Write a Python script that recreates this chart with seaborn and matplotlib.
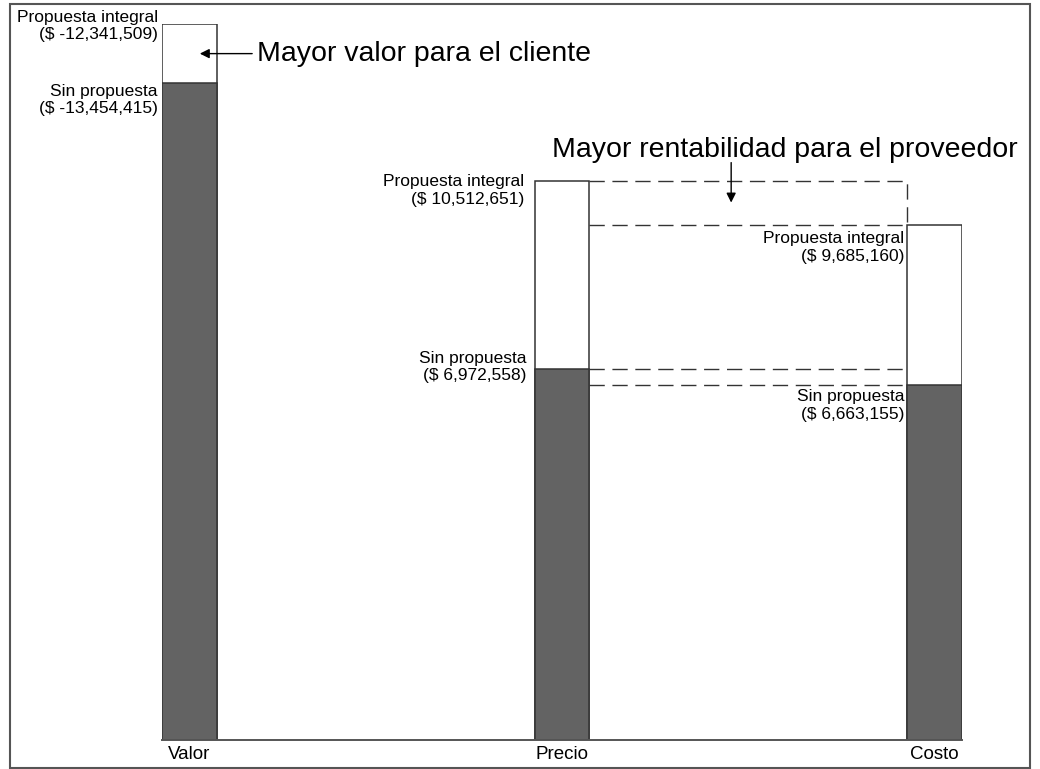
import matplotlib
matplotlib.use("Agg")
import matplotlib.pyplot as plt
from matplotlib.patches import Rectangle
import pandas as pd
import seaborn as sns

# datos
categorias = ["Valor", "Precio", "Costo"]
sin_propuesta = [-13454415, 6972558, 6663155]
propuesta_integral = [-12341509, 10512651, 9685160]

# la barra oscura es el menor valor absoluto, la blanca el mayor
alto_oscuro = [min(abs(a), abs(b)) for a, b in zip(sin_propuesta, propuesta_integral)]
alto_blanco = [max(abs(a), abs(b)) for a, b in zip(sin_propuesta, propuesta_integral)]

df = pd.DataFrame({"cat": categorias, "oscuro": alto_oscuro, "blanco": alto_blanco})

sns.set_style("white")
plt.rcParams["font.family"] = ["Liberation Sans", "DejaVu Sans"]
plt.rcParams["text.color"] = "black"
plt.rcParams["xtick.color"] = "black"

ancho = 0.147
gris = "#636363"
linea = "#333333"

fig = plt.figure(figsize=(10.4, 7.69), dpi=100)
ax = fig.add_axes([162 / 1040, 29 / 769, 800 / 1040, 716 / 769])

sns.barplot(data=df, x="cat", y="blanco", order=categorias, color="white",
            edgecolor=linea, linewidth=1.1, width=ancho, saturation=1, ax=ax)
sns.barplot(data=df, x="cat", y="oscuro", order=categorias, color=gris,
            edgecolor=linea, linewidth=1.1, width=ancho, saturation=1, ax=ax)

ax.set_xlim(-ancho / 2, 2 + ancho / 2)
ax.set_ylim(0, max(alto_blanco))
ax.set_xlabel("")
ax.set_ylabel("")
ax.set_yticks([])
ax.tick_params(axis="x", length=0, pad=4, labelsize=13.5, labelcolor="black")
for s in ["top", "left", "right"]:
    ax.spines[s].set_visible(False)
ax.spines["bottom"].set_color("#555555")
ax.spines["bottom"].set_linewidth(1.4)

# lineas punteadas entre Precio y Costo
x1 = 1 + ancho / 2
x2 = 2 - ancho / 2
guion = dict(color=linea, lw=1.0, linestyle=(0, (11, 5.5)))
ax.plot([x1, x2, x2], [alto_blanco[1], alto_blanco[1], alto_blanco[2]], **guion)
ax.plot([x1, x2], [alto_blanco[2], alto_blanco[2]], **guion)
ax.plot([x1, x2], [alto_oscuro[1], alto_oscuro[1]], **guion)
ax.plot([x1, x2], [alto_oscuro[2], alto_oscuro[2]], **guion)

# etiquetas de cada barra (desplazamientos en pixeles)
desp_blanco = [(-4, -2), (-10, -10), (-3, -23)]
desp_oscuro = [(-4, -17), (-8, 2), (-3, -20)]
for i in range(3):
    xl = i - ancho / 2
    ax.annotate(f"Propuesta integral\n($ {propuesta_integral[i]:,})",
                xy=(xl, alto_blanco[i]), xytext=desp_blanco[i], textcoords="offset pixels",
                ha="right", va="center", fontsize=12.5, linespacing=1.2,
                multialignment="right", annotation_clip=False)
    ax.annotate(f"Sin propuesta\n($ {sin_propuesta[i]:,})",
                xy=(xl, alto_oscuro[i]), xytext=desp_oscuro[i], textcoords="offset pixels",
                ha="right", va="center", fontsize=12.5, linespacing=1.2,
                multialignment="right", annotation_clip=False)

# flechas y textos grandes
y_cliente = (alto_blanco[0] + alto_oscuro[0]) / 2
ax.annotate("Mayor valor para el cliente", xy=(0.028, y_cliente), xytext=(0.181, y_cliente),
            ha="left", va="center", fontsize=20.5, annotation_clip=False,
            arrowprops=dict(arrowstyle="-|>", color="black", lw=1.0,
                            shrinkA=1, shrinkB=0, mutation_scale=14))

y_prov = (alto_blanco[1] + alto_blanco[2]) / 2
ax.text(1.599, 11.08e6, "Mayor rentabilidad para el proveedor", ha="center", va="center",
        fontsize=20.5, clip_on=False)
ax.annotate("", xy=(1.454, y_prov), xytext=(1.454, 10.85e6),
            arrowprops=dict(arrowstyle="-|>", color="black", lw=1.0,
                            shrinkA=0, shrinkB=0, mutation_scale=14),
            annotation_clip=False)

# marco exterior
fig.patches.append(Rectangle((10 / 1040, 1 / 769), 1020 / 1040, 764 / 769,
                             transform=fig.transFigure, fill=False,
                             edgecolor="#555555", lw=1.5))

fig.savefig("out.png", dpi=100)
